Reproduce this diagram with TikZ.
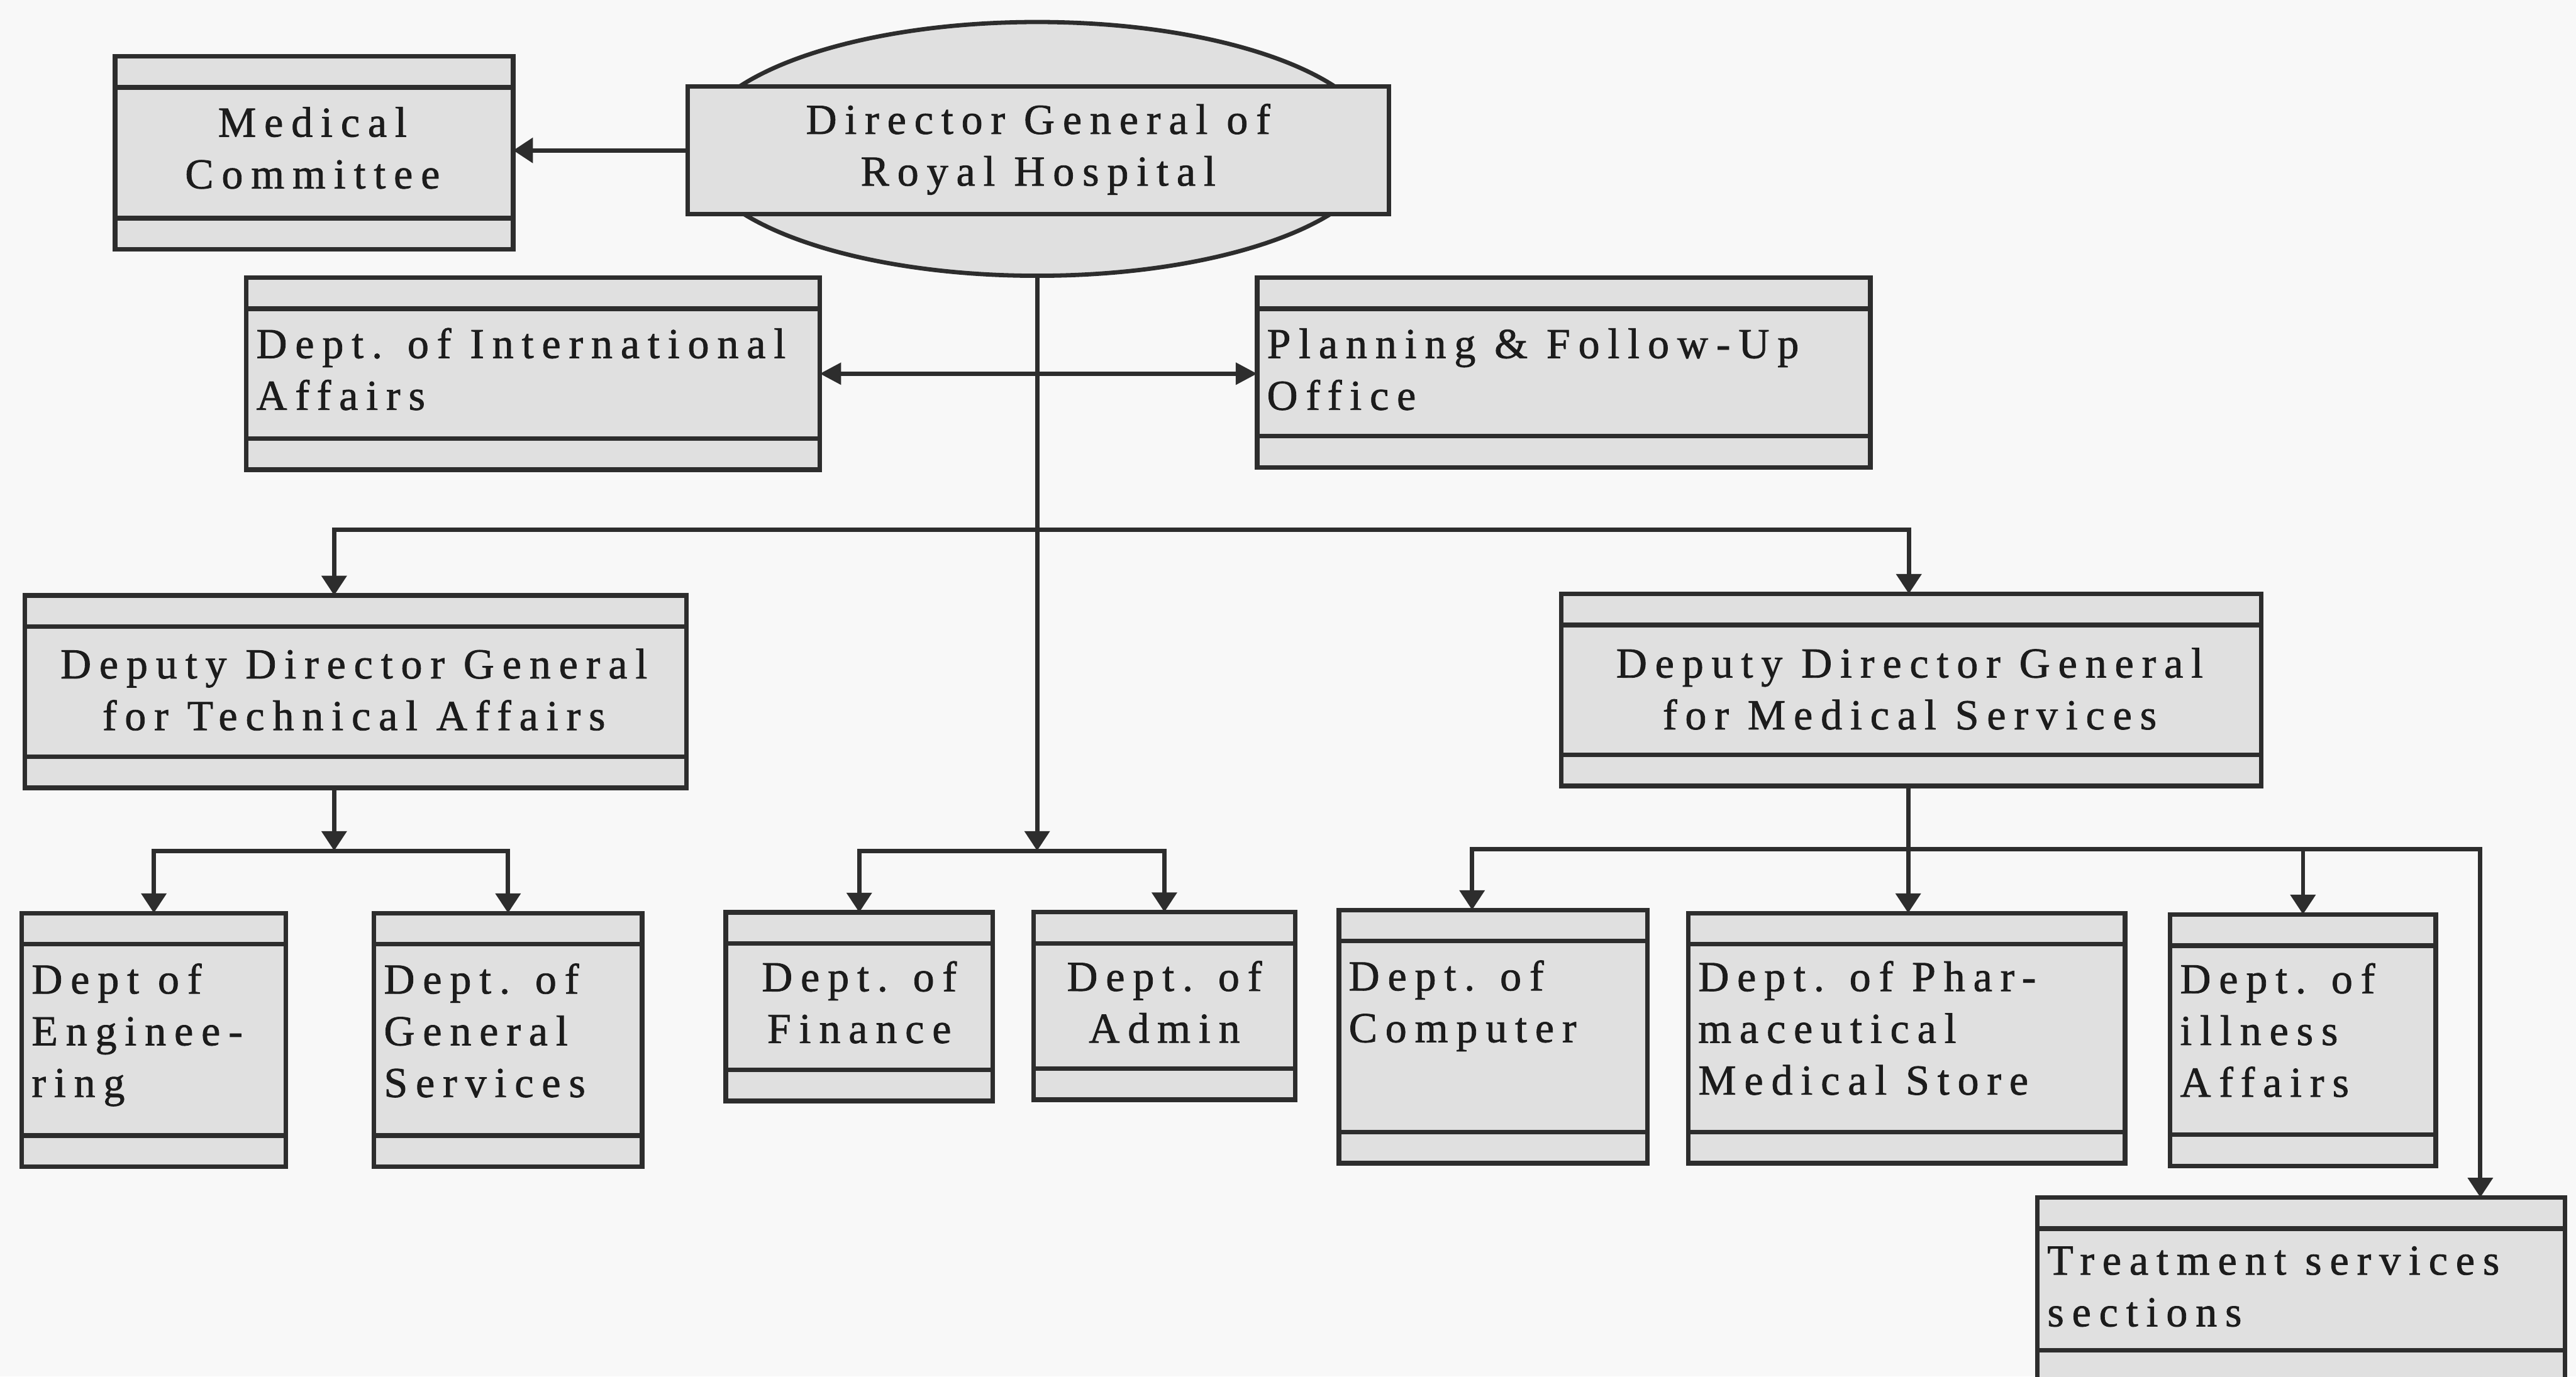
\documentclass[tikz,border=0pt]{standalone}
\usepackage{fontspec}
\setmainfont{Liberation Serif}[LetterSpace=19,FakeBold=1.2]
\usetikzlibrary{arrows.meta,shapes.geometric,calc}
\definecolor{linec}{RGB}{45,45,45}
\definecolor{textc}{RGB}{28,28,28}
\definecolor{boxf}{RGB}{224,224,224}
\definecolor{bgc}{RGB}{248,248,248}
\newcommand{\mystrut}{\rule{0pt}{20pt}}
\newcommand{\obox}[5]{%
 \pgfmathsetmacro\myBW{#4-#2}\pgfmathsetmacro\myBH{#5-#3}%
 \pgfmathsetmacro\myBX{(#2+#4)/2}\pgfmathsetmacro\myBY{(#3+#5)/2}%
 \node[stripebox, minimum width=\myBW pt, minimum height=\myBH pt] (#1) at (\myBX,\myBY) {};}
\tikzset{
 stripebox/.style={draw=linec, fill=boxf, line width=2.8pt, rectangle, inner sep=0pt, outer sep=0pt,
   path picture={\draw[draw=linec, line width=2.8pt]
     ([yshift=-19pt]path picture bounding box.north west) -- ([yshift=-19pt]path picture bounding box.north east)
     ([yshift=19pt]path picture bounding box.south west) -- ([yshift=19pt]path picture bounding box.south east);}},
 txt/.style={font=\fontsize{26}{31.5}\selectfont, text=textc, inner sep=0pt, outer sep=0pt},
 txtL/.style={txt, align=left, anchor=north west},
 txtC/.style={txt, align=center, anchor=north},
 conn/.style={draw=linec, line width=2.6pt},
 arr/.style={conn, -{Triangle[width=15pt,length=12pt]}},
 darr/.style={conn, {Triangle[width=13pt,length=13pt]}-{Triangle[width=13pt,length=13pt]}},
}
\begin{document}
\begin{tikzpicture}[x=1pt,y=-1pt]
\clip (0,0) rectangle (1568,838);
\fill[bgc] (0,0) rectangle (1568,838);

% Director General
\node[draw=linec, fill=boxf, line width=2.6pt, ellipse, minimum width=416pt, minimum height=154.5pt, inner sep=0pt, outer sep=0pt] (dgell) at (631.3,90.65) {};
\node[draw=linec, fill=boxf, line width=2.8pt, rectangle, minimum width=426.8pt, minimum height=77.7pt, inner sep=0pt, outer sep=0pt] (dg) at (631.9,91.55) {};
\node[txtC] (dg-t) at ([yshift=-8.8pt]dg.north) {\mystrut Director General of\\Royal Hospital};

% boxes
\obox{mc}{70}{34.2}{312.4}{151.8}
\obox{intl}{150}{169}{499}{286}
\obox{plan}{765.2}{169}{1138.5}{284.5}
\obox{dtech}{15}{362.5}{417.8}{479.7}
\obox{dmed}{950.3}{361.5}{1376.5}{478.5}
\obox{eng}{13.3}{555.9}{174}{710.4}
\obox{gs}{227.7}{555.9}{390.8}{710.4}
\obox{fin}{441.8}{555.5}{604.2}{670.3}
\obox{adm}{629.2}{555.3}{788.3}{669.5}
\obox{comp}{815}{554}{1002.7}{708.2}
\obox{pharm}{1027.7}{555.9}{1293.5}{708.2}
\obox{ill}{1321}{556.7}{1482.6}{709.8}
\obox{treat}{1240.2}{729}{1561.3}{841}

% texts
\node[txtC] (mc-t) at ([xshift=-1pt,yshift=-29pt]mc.north) {\mystrut Medical\\Committee};
\node[txtL] (intl-t) at ([xshift=6pt,yshift=-29pt]intl.north west) {\mystrut Dept. of International\\Affairs};
\node[txtL] (plan-t) at ([xshift=6pt,yshift=-29pt]plan.north west) {\mystrut Planning \& Follow-Up\\Office};
\node[txtC] (dtech-t) at ([xshift=-1pt,yshift=-30.5pt]dtech.north) {\mystrut Deputy Director General\\for Technical Affairs};
\node[txtC] (dmed-t) at ([xshift=-1pt,yshift=-31pt]dmed.north) {\mystrut Deputy Director General\\for Medical Services};
\node[txtL] (eng-t) at ([xshift=6pt,yshift=-29pt]eng.north west) {\mystrut Dept of\\Enginee-\\ring};
\node[txtL] (gs-t) at ([xshift=6pt,yshift=-29pt]gs.north west) {\mystrut Dept. of\\General\\Services};
\node[txtC] (fin-t) at ([yshift=-28pt]fin.north) {\mystrut Dept. of\\Finance};
\node[txtC] (adm-t) at ([yshift=-28pt]adm.north) {\mystrut Dept. of\\Admin};
\node[txtL] (comp-t) at ([xshift=6pt,yshift=-29pt]comp.north west) {\mystrut Dept. of\\Computer};
\node[txtL] (pharm-t) at ([xshift=6pt,yshift=-27.5pt]pharm.north west) {\mystrut Dept. of Phar-\\maceutical\\Medical Store};
\node[txtL] (ill-t) at ([xshift=6pt,yshift=-28pt]ill.north west) {\mystrut Dept. of\\illness\\Affairs};
\node[txtL] (treat-t) at ([xshift=6pt,yshift=-27pt]treat.north west) {\mystrut Treatment services\\sections};

% connectors
\coordinate (jTop) at (631.3,322.5);
\coordinate (jF) at (631.3,518);
\coordinate (jT) at (203.4,518);
\coordinate (jM) at (1161.5,517);

\draw[arr] (dg.west) -- (dg.west -| mc.east);
\draw[darr] (intl.east) -- (intl.east -| plan.west);
\draw[arr] (dgell.south) -- (jF);
\draw[arr] (jTop) -| ([xshift=-13pt]dtech.north);
\draw[arr] (jTop) -| ([xshift=-1.5pt]dmed.north);
\draw[arr] (jF) -| (fin.north);
\draw[arr] (jF) -| (adm.north);
\draw[arr] ([xshift=-13pt]dtech.south) -- (jT);
\draw[arr] (jT) -| (eng.north);
\draw[arr] (jT) -| (gs.north);
\draw[arr] (dmed.south -| jM) -- (pharm.north -| jM);
\draw[arr] (jM) -| ([xshift=-12.8pt]comp.north);
\draw[arr] (jM) -| (ill.north);
\draw[arr] (jM) -| ([xshift=109pt]treat.north);
\end{tikzpicture}
\end{document}
